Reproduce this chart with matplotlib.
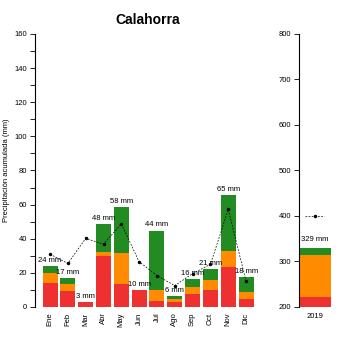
import matplotlib
matplotlib.use('Agg')
import matplotlib.pyplot as plt
import numpy as np

# monthly precipitation, stacked by category (mm)
months = ['Ene', 'Feb', 'Mar', 'Abr', 'May', 'Jun', 'Jul', 'Ago', 'Sep', 'Oct', 'Nov', 'Dic']
red = [14, 9.5, 3, 29.7, 13.7, 9.8, 3.6, 3.2, 7.9, 10.1, 23.2, 4.4]
orange = [6, 4.2, 0, 2.3, 17.8, 0.2, 6.5, 1.6, 3.6, 5.5, 9.5, 4.5]
green = [4, 3.5, 0, 16.7, 27, 0, 34.7, 1.7, 4.9, 6.4, 32.8, 8.9]
labels = ['24 mm', '17 mm', '3 mm', '48 mm', '58 mm', '10 mm', '44 mm', '6 mm',
          '16 mm', '21 mm', '65 mm', '18 mm']
mean_monthly = [30.9, 25.5, 40.2, 36.8, 48.7, 26.5, 18.4, 12.5, 19.6, 25, 57.2, 15]

# annual totals
year = ['2019']
year_red = [221]
year_orange = [93]
year_green = [15]
year_label = '329 mm'
year_mean = [400]

plt.rcParams['font.family'] = ['Liberation Sans', 'DejaVu Sans']

c_red, c_orange, c_green = '#EE3030', '#FF8C00', '#228B22'
fs = 5.5

fig = plt.figure(figsize=(3.5, 3.5), dpi=100)
ax = fig.add_axes([0.0997, 0.1229, 0.634, 0.78])
ax2 = fig.add_axes([0.8534, 0.1229, 0.1006, 0.78])

x = np.arange(len(months))
red = np.array(red)
orange = np.array(orange)
green = np.array(green)
w = 0.84
ax.bar(x, red, w, color=c_red, linewidth=0)
ax.bar(x, orange, w, bottom=red, color=c_orange, linewidth=0)
ax.bar(x, green, w, bottom=red + orange, color=c_green, linewidth=0)
tot = red + orange + green
for xi, t, lab in zip(x, tot, labels):
    ax.annotate(lab, (xi, t), xytext=(0, 1.5), textcoords='offset points',
                ha='center', va='bottom', fontsize=fs)
ax.plot(x, mean_monthly, color='black', linestyle=(0, (2.5, 2)), linewidth=0.5,
        marker='o', markersize=1.5)

ax.set_xlim(-0.85, 11.6)
ax.set_ylim(0, 160)
ax.set_yticks(np.arange(0, 161, 20))
ax.set_yticks(np.arange(10, 160, 20), minor=True)
ax.set_xticks(x)
ax.set_xticklabels(months, rotation=90, fontsize=fs)
ax.tick_params(axis='x', length=0, pad=4)
ax.tick_params(axis='y', which='both', labelsize=fs, length=3.5, width=0.6, pad=2)
ax.set_ylabel('Precipitación acumulada (mm)', fontsize=fs, labelpad=3)
for s in ['top', 'right', 'bottom']:
    ax.spines[s].set_visible(False)
ax.spines['left'].set_linewidth(0.8)
ax.set_title('Calahorra', fontsize=10, fontweight='bold', x=0.51, pad=7)

# annual panel
ax2.bar(0, year_red, 1, color=c_red, linewidth=0)
ax2.bar(0, year_orange, 1, bottom=year_red, color=c_orange, linewidth=0)
ax2.bar(0, year_green, 1, bottom=np.array(year_red) + np.array(year_orange),
        color=c_green, linewidth=0)
ytot = year_red[0] + year_orange[0] + year_green[0]
ax2.annotate(year_label, (0, ytot), xytext=(0, 4), textcoords='offset points',
             ha='center', va='bottom', fontsize=fs)
ax2.plot([-0.3, 0, 0.3], year_mean * 3, color='black', linestyle=(0, (2.5, 2)),
         linewidth=0.5, marker='o', markersize=1.5, markevery=[1])
ax2.set_xlim(-0.5, 0.6)
ax2.set_ylim(200, 800)
ax2.set_yticks(np.arange(200, 801, 100))
ax2.set_xticks([0])
ax2.set_xticklabels(year, fontsize=fs)
ax2.tick_params(axis='x', length=0, pad=4)
ax2.tick_params(axis='y', labelsize=fs, length=3.5, width=0.6, pad=2)
for s in ['top', 'right', 'bottom']:
    ax2.spines[s].set_visible(False)
ax2.spines['left'].set_linewidth(0.8)

fig.savefig('out.png', dpi=100)
